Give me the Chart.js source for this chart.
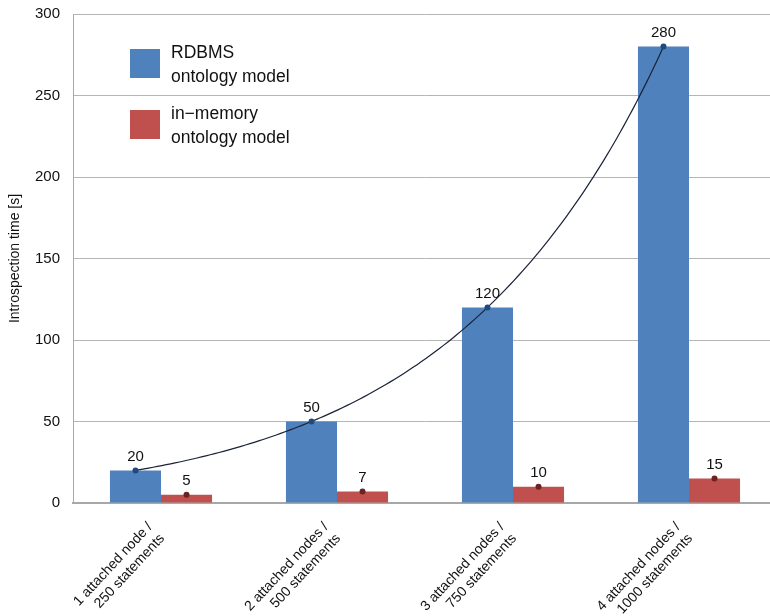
<!DOCTYPE html>
<html>
<head>
<meta charset="utf-8">
<script src="https://cdn.jsdelivr.net/npm/chart.js@4/dist/chart.umd.min.js"></script>
<style>
  body { margin: 0; overflow: hidden; background: #fff; }
  #chartArea { width: 777px; height: 624px; margin-top: -8px; }
</style>
</head>
<body>
<div id="chartArea"><canvas id="myChart"></canvas></div>
<script>
const categories = [
  ['1 attached node /', '250 statements'],
  ['2 attached nodes /', '500 statements'],
  ['3 attached nodes /', '750 statements'],
  ['4 attached nodes /', '1000 statements'],
];
const rdbmsTimes = [20, 50, 120, 280];
const inMemoryTimes = [5, 7, 10, 15];
const yTicks = [0, 50, 100, 150, 200, 250, 300];

const FONT = '"Liberation Sans", Arial, sans-serif';

// monotone tangents for a list of (x, v)
function monotoneTangents(xs, vs) {
  const n = xs.length, m = [], t = [];
  for (let i = 0; i < n - 1; i++) m[i] = (vs[i + 1] - vs[i]) / (xs[i + 1] - xs[i]);
  t[0] = m[0];
  t[n - 1] = m[n - 2];
  for (let i = 1; i < n - 1; i++) t[i] = m[i - 1] * m[i] <= 0 ? 0 : (m[i - 1] + m[i]) / 2;
  for (let i = 0; i < n - 1; i++) {
    if (m[i] === 0) { t[i] = t[i + 1] = 0; continue; }
    const a = t[i] / m[i], b = t[i + 1] / m[i], s = a * a + b * b;
    if (s > 9) {
      const tau = 3 / Math.sqrt(s);
      t[i] = tau * a * m[i];
      t[i + 1] = tau * b * m[i];
    }
  }
  return t;
}

// growth curve through the RDBMS bar tops (smoothed on a log scale) + dots on every bar
const trendCurve = {
  id: 'trendCurve',
  afterDatasetsDraw(chart) {
    const ctx = chart.ctx;
    const yScale = chart.scales.y;
    const blue = chart.getDatasetMeta(0).data;
    const red = chart.getDatasetMeta(1).data;
    const xs = blue.map((b) => b.x);
    const logs = rdbmsTimes.map((v) => Math.log(v));
    const t = monotoneTangents(xs, logs);

    ctx.save();
    ctx.beginPath();
    ctx.moveTo(xs[0], yScale.getPixelForValue(rdbmsTimes[0]));
    for (let i = 0; i < xs.length - 1; i++) {
      const h = xs[i + 1] - xs[i];
      for (let k = 1; k <= 40; k++) {
        const s = k / 40, s2 = s * s, s3 = s2 * s;
        const L = (2 * s3 - 3 * s2 + 1) * logs[i] + (s3 - 2 * s2 + s) * h * t[i] +
          (-2 * s3 + 3 * s2) * logs[i + 1] + (s3 - s2) * h * t[i + 1];
        ctx.lineTo(xs[i] + s * h, yScale.getPixelForValue(Math.exp(L)));
      }
    }
    ctx.strokeStyle = '#1a2238';
    ctx.lineWidth = 1.2;
    ctx.stroke();

    [[blue, '#1f4a7d'], [red, '#6b2220']].forEach(([bars, color]) => {
      ctx.fillStyle = color;
      bars.forEach((b) => {
        ctx.beginPath();
        ctx.arc(b.x, b.y, 3, 0, Math.PI * 2);
        ctx.fill();
      });
    });
    ctx.restore();
  },
};

// value labels above the bars
const valueLabels = {
  id: 'valueLabels',
  afterDatasetsDraw(chart) {
    const ctx = chart.ctx;
    ctx.save();
    ctx.font = '15px ' + FONT;
    ctx.fillStyle = '#111';
    ctx.textAlign = 'center';
    ctx.textBaseline = 'bottom';
    chart.data.datasets.forEach((ds, i) => {
      chart.getDatasetMeta(i).data.forEach((bar, j) => {
        ctx.fillText(String(ds.data[j]), bar.x, bar.y - 6);
      });
    });
    ctx.restore();
  },
};

// legend inside the plot, top left
const innerLegend = {
  id: 'innerLegend',
  afterDraw(chart) {
    const ctx = chart.ctx;
    const area = chart.chartArea;
    ctx.save();
    ctx.font = '17.5px ' + FONT;
    ctx.textBaseline = 'middle';
    let y = area.top + 35;
    chart.data.datasets.forEach((ds) => {
      ctx.fillStyle = ds.backgroundColor;
      ctx.fillRect(area.left + 57, y, 30, 29);
      ctx.fillStyle = '#111';
      ds.label.split('\n').forEach((line, k) => {
        ctx.fillText(line, area.left + 98, y + 4 + k * 24);
      });
      y += 61;
    });
    ctx.restore();
  },
};

const ctx = document.getElementById('myChart').getContext('2d');
const chart = new Chart(ctx, {
  type: 'bar',
  data: {
    labels: categories,
    datasets: [
      {
        label: 'RDBMS\nontology model',
        data: rdbmsTimes,
        backgroundColor: '#4f81bd',
      },
      {
        label: 'in\u2212memory\nontology model',
        data: inMemoryTimes,
        backgroundColor: '#c0504d',
      },
    ],
  },
  options: {
    responsive: true,
    maintainAspectRatio: false,
    animation: false,
    categoryPercentage: 0.58,
    barPercentage: 1,
    layout: { padding: 0 },
    plugins: {
      legend: { display: false },
      tooltip: { enabled: false },
    },
    scales: {
      x: {
        grid: { display: false },
        border: { color: '#a8a8a8', width: 2 },
        ticks: {
          color: '#111',
          font: { family: FONT, size: 14 },
          maxRotation: 47,
          minRotation: 47,
          padding: 8,
          labelOffset: -11,
        },
        afterFit(scale) { scale.height = 113; },
      },
      y: {
        min: 0,
        max: 300,
        afterBuildTicks(scale) { scale.ticks = yTicks.map((v) => ({ value: v })); },
        grid: { color: '#b5b5b5', drawTicks: false },
        border: { color: '#a8a8a8' },
        ticks: {
          color: '#111',
          font: { family: FONT, size: 15 },
          padding: 13,
        },
        title: {
          display: true,
          text: 'Introspection time [s]',
          color: '#111',
          font: { family: FONT, size: 14 },
          padding: { top: 7, bottom: 0 },
        },
        afterFit(scale) { scale.width = 73; },
      },
    },
  },
  plugins: [trendCurve, valueLabels, innerLegend],
});
</script>
</body>
</html>
